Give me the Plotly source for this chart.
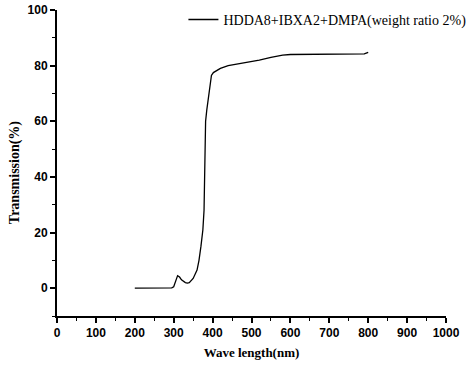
import plotly.graph_objects as go

wavelength = [200, 250, 295, 300, 305, 310, 315, 320, 330, 335, 340, 350, 360, 365, 370, 375, 378,
              380, 382, 385, 388, 390, 393, 397, 402, 410, 420, 440, 460, 480, 500, 520, 550, 580,
              600, 650, 700, 750, 790, 800]
transmission = [0, 0, 0.1, 0.5, 3, 4.5, 4, 3, 2, 1.8, 2, 3.5, 6.5, 10, 15, 21, 28,
                45, 60, 64, 67, 70, 74, 76.5, 77.5, 78.2, 79, 80, 80.5, 80.8, 81.5, 82, 83, 83.8,
                84, 84, 84, 84, 84.2, 84.8]
series_name = "HDDA8+IBXA2+DMPA(weight ratio 2%)"
x_title = "Wave length(nm)"
y_title = "Transmission(%)"

fig = go.Figure()
fig.add_trace(go.Scatter(x=wavelength, y=transmission, mode="lines", name=series_name,
                         line=dict(color="black", width=1.3)))

tickfont = dict(family="Liberation Sans", size=12, color="black", weight="bold")
titlefont = dict(family="Liberation Serif", size=13, color="black")

fig.update_layout(
    width=469, height=367,
    margin=dict(l=57, r=23, t=10, b=51, autoexpand=False),
    paper_bgcolor="white", plot_bgcolor="white",
    showlegend=True,
    legend=dict(x=0.325, y=1.02, xanchor="left", yanchor="top",
                font=dict(family="Liberation Serif", size=14, color="black"),
                bgcolor="rgba(0,0,0,0)", itemwidth=30, tracegroupgap=0),
    xaxis=dict(range=[0, 1000], tickvals=list(range(0, 1001, 100)), automargin=False,
               showgrid=False, zeroline=False, showline=True, linecolor="black", linewidth=2,
               ticks="outside", ticklen=5, tickwidth=1.5, tickcolor="black",
               minor=dict(ticks="outside", ticklen=3, tickwidth=1, tickcolor="black", dtick=50),
               tickfont=tickfont, ticklabeloverflow="allow",
               title=dict(text="<b>" + x_title + "</b>", font=titlefont, standoff=8)),
    yaxis=dict(range=[-10, 100], tickvals=[0, 20, 40, 60, 80, 100], automargin=False,
               showgrid=False, zeroline=False, showline=True, linecolor="black", linewidth=2,
               ticks="outside", ticklen=5, tickwidth=1.5, tickcolor="black",
               minor=dict(ticks="outside", ticklen=3, tickwidth=1, tickcolor="black", dtick=10),
               tickfont=tickfont, ticklabeloverflow="allow"),
    annotations=[dict(text="<b>" + y_title + "</b>", xref="paper", yref="paper",
                      x=-0.108, y=0.47, xanchor="center", yanchor="middle",
                      textangle=-90, showarrow=False,
                      font=dict(family="Liberation Serif", size=14, color="black"))],
)

fig.write_html("out.html", config={"displayModeBar": False},
               post_script="document.body.style.margin='0';")
